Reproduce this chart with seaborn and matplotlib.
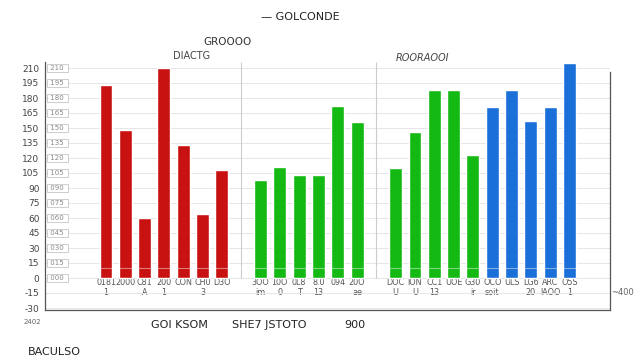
import pandas as pd
import seaborn as sns
import matplotlib.pyplot as plt

# Bar data (blank labels are empty slots)
labels = ['0181', '2000', 'C81', '200', 'CON', 'CH0', 'D3O', ' ',
          '3OO', '10O', '0L8', '8.0', '094', '20O', '  ',
          'DOC', 'ION', 'CC1', 'UOE', 'G30', 'OCO', 'ULS', 'LG6', 'ARC', 'O5S']
sublabels = ['1', '', 'A', '1', '', '3', '', '',
             'im', '0', 'T', '13', '', 'ae', '',
             'U', 'U', '13', '', 'ir', 'soit', '', '20', 'IAOO', '1']
values = [193, 148, 60, 210, 133, 64, 108, None,
          98, 111, 103, 103, 172, 156, None,
          110, 146, 188, 188, 123, 171, 188, 157, 171, 215]
groups = ['A'] * 7 + ['gap'] + ['B'] * 6 + ['gap'] + ['B'] * 5 + ['C'] * 5

colors = {'A': '#c81212', 'B': '#14b914', 'C': '#1a6fd8'}
y_ticks = list(range(-30, 211, 15))

df = pd.DataFrame({'label': labels, 'value': values, 'group': groups})
bars = df[df['group'] != 'gap'].dropna()

sns.set_style('white')
plt.rcParams['font.family'] = ['DejaVu Sans']

fig = plt.figure(figsize=(6.4, 3.6), dpi=100)
ax = fig.add_axes([45 / 640, 50 / 360, 565 / 640, 248 / 360])

sns.barplot(data=bars, x='label', y='value', hue='group', order=labels,
            hue_order=['A', 'B', 'C'], palette=colors, dodge=False,
            width=0.67, saturation=1, legend=False, ax=ax)

ax.set_xlim(-3.16, 26.1)
ax.set_ylim(-32, 216)
ax.set_yticks(y_ticks)
ax.set_yticklabels([str(t) for t in y_ticks], fontsize=6.5, color='#444444')
ax.grid(axis='y', color='#e6e6e6', lw=0.7)
ax.set_axisbelow(True)

# x labels sit inside the frame, under the bar baseline
ax.set_xticks(range(len(labels)))
ax.set_xticklabels([f'{a}\n{b}' for a, b in zip(labels, sublabels)],
                   fontsize=5.8, color='#555555', linespacing=1.1)
ax.tick_params(axis='x', length=0, pad=-23)
ax.tick_params(axis='y', length=0, pad=4)
ax.set_xlabel('')
ax.set_ylabel('')

# separators between groups
gap_pos = [i for i, g in enumerate(groups) if g == 'gap']
ax.vlines(gap_pos, 0, 216, color='#cccccc', lw=0.8)
ax.axhline(10, color='white', alpha=0.45, lw=0.8)

ax.spines['top'].set_visible(False)
ax.spines['right'].set_bounds(-32, 206)
for s in ['left', 'bottom', 'right']:
    ax.spines[s].set_color('#555555')
    ax.spines[s].set_linewidth(0.9)

# boxed value tags inside the left edge
for t in y_ticks[2:]:
    ax.text(0.006, t, f' {t:03d} ', transform=ax.get_yaxis_transform(),
            fontsize=5, color='#888888', va='center',
            bbox=dict(boxstyle='square,pad=0.2', fc='white', ec='#bbbbbb', lw=0.5))

# titles and captions
fig.text(0.47, 0.945, '— GOLCONDE', fontsize=8, color='#222222', ha='center')
fig.text(0.355, 0.875, 'GROOOO', fontsize=7.5, color='#333333', ha='center')
fig.text(0.30, 0.835, 'DIACTG', fontsize=7, color='#444444', ha='center')
fig.text(0.66, 0.83, 'ROORAOOI', fontsize=7, color='#444444', ha='center',
         style='italic')
fig.text(0.28, 0.088, 'GOI KSOM', fontsize=8, color='#222222', ha='center')
fig.text(0.42, 0.088, 'SHE7 JSTOTO', fontsize=8, color='#222222', ha='center')
fig.text(0.555, 0.088, '900', fontsize=8, color='#222222', ha='center')
fig.text(0.085, 0.015, 'BACULSO', fontsize=8, color='#222222', ha='center')
fig.text(0.05, 0.1, '2402', fontsize=5, color='#666666', ha='center')
fig.text(0.955, 0.18, '~400', fontsize=6, color='#666666', ha='left')

fig.savefig('out.png', dpi=100)
